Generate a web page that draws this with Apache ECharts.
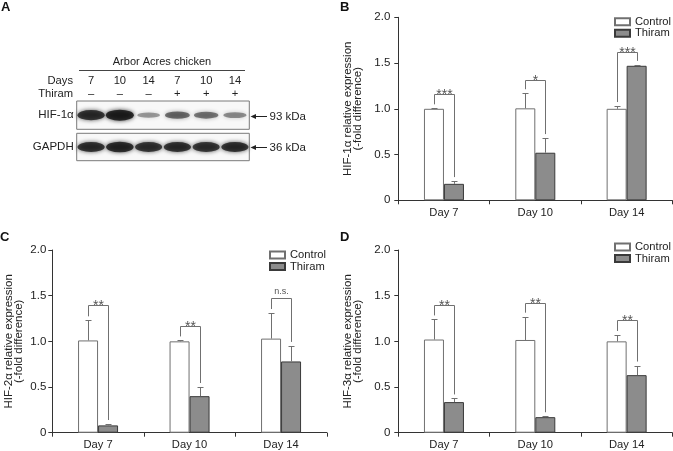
<!DOCTYPE html>
<html>
<head>
<meta charset="utf-8">
<script src="https://cdn.jsdelivr.net/npm/echarts@6/dist/echarts.min.js"></script>
<style>
html,body{margin:0;padding:0;background:#fff;}
#chart{width:673px;height:451px;}
</style>
</head>
<body>
<div id="chart"></div>
<script>
// ---------- DATA ----------
const days = ['Day 7', 'Day 10', 'Day 14'];
const yTicks = ['0', '0.5', '1.0', '1.5', '2.0'];

// Panel B: HIF-1α
const hif1Control = [1.00, 1.005, 1.00];
const hif1ControlErr = [0.005, 0.165, 0.03];
const hif1Thiram = [0.18, 0.52, 1.47];
const hif1ThiramErr = [0.03, 0.16, 0.01];
const hif1SigTop = [1.16, 1.32, 1.62];
const hif1Sig = ['***', '*', '***'];

// Panel C: HIF-2α
const hif2Control = [1.01, 1.00, 1.03];
const hif2ControlErr = [0.22, 0.01, 0.28];
const hif2Thiram = [0.08, 0.40, 0.78];
const hif2ThiramErr = [0.015, 0.10, 0.17];
const hif2SigTop = [1.40, 1.17, 1.47];
const hif2Sig = ['**', '**', 'n.s.'];

// Panel D: HIF-3α
const hif3Control = [1.02, 1.015, 1.00];
const hif3ControlErr = [0.22, 0.255, 0.07];
const hif3Thiram = [0.335, 0.17, 0.63];
const hif3ThiramErr = [0.04, 0.01, 0.105];
const hif3SigTop = [1.40, 1.42, 1.23];
const hif3Sig = ['**', '**', '**'];

// Panel A: western blot
const laneDays = ['7', '10', '14', '7', '10', '14'];
const laneThiram = ['\u2013', '\u2013', '\u2013', '+', '+', '+'];
const hif1aBand = [0.9, 1.0, 0.35, 0.6, 0.55, 0.42];
const gapdhBand = [0.9, 0.95, 0.88, 0.9, 0.88, 0.9];

// ---------- STYLE ----------
const FONT = '"Liberation Sans", Arial, Helvetica, sans-serif';
const FS = 11.2;
const TXT = '#222';
const AXIS = '#333';
const ERR_COLOR = '#707070';
const BAR_W = 20;
const GAP = 4;

const chart = echarts.init(document.getElementById('chart'));

const panels = [
  { name: 'HIF-1\u03b1 relative expression\n(-fold difference)', control: hif1Control, cErr: hif1ControlErr, thiram: hif1Thiram, tErr: hif1ThiramErr, sigTop: hif1SigTop, sig: hif1Sig,
    grid: { left: 398.3, top: 17.3, width: 274, height: 183 }, nameGap: 35, labelMargin: 8, legend: { left: 614, top: 16 } },
  { name: 'HIF-2\u03b1 relative expression\n(-fold difference)', control: hif2Control, cErr: hif2ControlErr, thiram: hif2Thiram, tErr: hif2ThiramErr, sigTop: hif2SigTop, sig: hif2Sig,
    grid: { left: 52.3, top: 250, width: 274.5, height: 182.7 }, nameGap: 28, labelMargin: 6, legend: { left: 269, top: 249.3 } },
  { name: 'HIF-3\u03b1 relative expression\n(-fold difference)', control: hif3Control, cErr: hif3ControlErr, thiram: hif3Thiram, tErr: hif3ThiramErr, sigTop: hif3SigTop, sig: hif3Sig,
    grid: { left: 398.3, top: 250, width: 274, height: 182.7 }, nameGap: 35, labelMargin: 8, legend: { left: 614, top: 241.3 } }
];

function errRender(side) {
  return function (params, api) {
    const cat = api.value(0), v = api.value(1), e = api.value(2);
    const p0 = api.coord([cat, v]);
    const p1 = api.coord([cat, v + e]);
    const x = Math.round(p0[0] + side * BAR_W / 2) + 0.5;
    const y1 = Math.round(p1[1]) + 0.5;
    return {
      type: 'group',
      children: [
        { type: 'line', shape: { x1: x, y1: p0[1], x2: x, y2: y1 }, style: { stroke: ERR_COLOR, lineWidth: 1 } },
        { type: 'line', shape: { x1: x - 3, y1: y1, x2: x + 3, y2: y1 }, style: { stroke: ERR_COLOR, lineWidth: 1 } }
      ]
    };
  };
}

function bracketRender(labels) {
  return function (params, api) {
    const cat = api.value(0);
    const pt = api.coord([cat, api.value(1)]);
    const pl = api.coord([cat, api.value(2)]);
    const pr = api.coord([cat, api.value(3)]);
    const xl = Math.round(pt[0] - BAR_W / 2) + 0.5;
    const xr = Math.round(pt[0] + BAR_W / 2) + 0.5;
    const yt = Math.round(pt[1]) + 0.5;
    const txt = labels[params.dataIndex];
    const ns = txt === 'n.s.';
    return {
      type: 'group',
      children: [
        { type: 'polyline', shape: { points: [[xl, pl[1] - GAP], [xl, yt], [xr, yt], [xr, pr[1] - GAP]] },
          style: { stroke: ERR_COLOR, fill: null, lineWidth: 1 } },
        { type: 'text', style: { text: txt, x: (xl + xr) / 2, y: ns ? yt - 2 : yt + 1,
          align: 'center', verticalAlign: ns ? 'bottom' : 'middle',
          fontFamily: FONT, fontSize: ns ? 9 : 14, fill: '#555' } }
      ]
    };
  };
}

const grids = [], xAxes = [], yAxes = [], series = [], legends = [];

panels.forEach((p, i) => {
  grids.push(Object.assign({ containLabel: false }, p.grid));
  xAxes.push({
    type: 'category', gridIndex: i, data: days,
    axisLine: { lineStyle: { color: AXIS, width: 1 } },
    axisTick: { show: true, length: 4, lineStyle: { color: AXIS } },
    axisLabel: { color: TXT, fontFamily: FONT, fontSize: FS, margin: 7 }
  });
  yAxes.push({
    type: 'value', gridIndex: i, min: 0, max: 2, interval: 0.5,
    name: p.name, nameLocation: 'middle', nameGap: p.nameGap,
    nameTextStyle: { color: TXT, fontFamily: FONT, fontSize: 11.5, lineHeight: 10.5 },
    axisLine: { show: true, lineStyle: { color: AXIS, width: 1 } },
    axisTick: { show: true, length: 4, lineStyle: { color: AXIS } },
    splitLine: { show: false },
    axisLabel: { color: TXT, fontFamily: FONT, fontSize: 11.5, margin: p.labelMargin,
      formatter: (v) => yTicks[Math.round(v / 0.5)] }
  });
  series.push({
    type: 'bar', name: 'Control', xAxisIndex: i, yAxisIndex: i, data: p.control,
    barWidth: BAR_W, barGap: '0%',
    itemStyle: { color: '#ffffff', borderColor: '#707070', borderWidth: 1 }
  });
  series.push({
    type: 'bar', name: 'Thiram', xAxisIndex: i, yAxisIndex: i, data: p.thiram,
    barWidth: BAR_W, barGap: '0%',
    itemStyle: { color: '#8c8c8c', borderColor: '#3a3a3a', borderWidth: 1 }
  });
  series.push({
    type: 'custom', xAxisIndex: i, yAxisIndex: i, renderItem: errRender(-1), z: 5,
    data: p.control.map((v, k) => [k, v, p.cErr[k]])
  });
  series.push({
    type: 'custom', xAxisIndex: i, yAxisIndex: i, renderItem: errRender(1), z: 5,
    data: p.thiram.map((v, k) => [k, v, p.tErr[k]])
  });
  series.push({
    type: 'custom', xAxisIndex: i, yAxisIndex: i, renderItem: bracketRender(p.sig), z: 5,
    data: p.sigTop.map((t, k) => [k, t, p.control[k] + p.cErr[k], p.thiram[k] + p.tErr[k]])
  });
  legends.push({
    left: p.legend.left, top: p.legend.top, orient: 'vertical', padding: 0,
    data: ['Control', 'Thiram'], icon: 'rect', itemWidth: 15, itemHeight: 7, itemGap: 0,
    selectedMode: false,
    textStyle: { color: TXT, fontFamily: FONT, fontSize: FS, lineHeight: 11.5 }
  });
});

// Blot strips (grid 3 = HIF-1α strip, grid 4 = GAPDH strip)
const laneIds = laneDays.map((d, k) => 'L' + k);
grids.push({ left: 76.7, top: 101, width: 172.6, height: 28.3, show: true, borderColor: '#7a7a7a', borderWidth: 1, backgroundColor: '#f8f8f8' });
grids.push({ left: 76.7, top: 133.3, width: 172.6, height: 27.4, show: true, borderColor: '#7a7a7a', borderWidth: 1, backgroundColor: '#f8f8f8' });
xAxes.push({
  type: 'category', gridIndex: 3, data: laneIds, position: 'top',
  axisLine: { show: false }, axisTick: { show: false },
  axisLabel: { color: TXT, fontFamily: FONT, fontSize: FS, lineHeight: 13, margin: 1,
    formatter: (v, k) => laneDays[k] + '\n' + laneThiram[k] }
});
xAxes.push({ type: 'category', gridIndex: 4, data: laneIds, show: false });
yAxes.push({
  type: 'category', gridIndex: 3, data: ['HIF-1\u03b1'],
  axisLine: { show: false }, axisTick: { show: false },
  axisLabel: { color: TXT, fontFamily: FONT, fontSize: 11.5, margin: 3 }
});
yAxes.push({
  type: 'category', gridIndex: 4, data: ['GAPDH'],
  axisLine: { show: false }, axisTick: { show: false },
  axisLabel: { color: TXT, fontFamily: FONT, fontSize: 11.5, margin: 3 }
});
function bandStyle(v) {
  const a = (0.15 + 0.85 * v).toFixed(2);
  return 'rgba(15,15,15,' + a + ')';
}
[[hif1aBand, 3], [gapdhBand, 4]].forEach(([arr, gi]) => {
  series.push({
    type: 'scatter', xAxisIndex: gi, yAxisIndex: gi, symbol: 'circle',
    data: arr.map((v, k) => ({
      value: [k, 0, v],
      itemStyle: { color: bandStyle(v), shadowBlur: 4, shadowColor: bandStyle(v) }
    })),
    symbolSize: (val) => [20 + 8 * val[2], 2 + 9 * val[2]],
    silent: true
  });
});

function arrow(y, label) {
  return [
    { type: 'line', shape: { x1: 252, y1: y, x2: 267, y2: y }, style: { stroke: '#222', lineWidth: 1 } },
    { type: 'polygon', shape: { points: [[250.5, y], [256, y - 2.5], [256, y + 2.5]] }, style: { fill: '#222' } },
    { type: 'text', style: { text: label, x: 269.5, y: y, verticalAlign: 'middle', fontFamily: FONT, fontSize: 11.5, fill: TXT } }
  ];
}
const letterStyle = { fontFamily: FONT, fontSize: 13, fontWeight: 'bold', fill: '#111' };
const graphic = [
  { type: 'text', style: Object.assign({ text: 'A', x: 1, y: 1 }, letterStyle) },
  { type: 'text', style: Object.assign({ text: 'B', x: 340, y: 1 }, letterStyle) },
  { type: 'text', style: Object.assign({ text: 'C', x: 0, y: 231 }, letterStyle) },
  { type: 'text', style: Object.assign({ text: 'D', x: 340, y: 231 }, letterStyle) },
  { type: 'text', style: { text: 'Arbor Acres chicken', x: 162, y: 62, align: 'center', verticalAlign: 'middle', fontFamily: FONT, fontSize: 11, fill: TXT } },
  { type: 'line', shape: { x1: 79, y1: 70.5, x2: 245, y2: 70.5 }, style: { stroke: '#444', lineWidth: 1 } },
  { type: 'text', style: { text: 'Days', x: 73, y: 81, align: 'right', verticalAlign: 'middle', fontFamily: FONT, fontSize: FS, fill: TXT } },
  { type: 'text', style: { text: 'Thiram', x: 73, y: 94, align: 'right', verticalAlign: 'middle', fontFamily: FONT, fontSize: FS, fill: TXT } }
].concat(arrow(116.5, '93 kDa'), arrow(147.5, '36 kDa'));

chart.setOption({
  animation: false,
  backgroundColor: '#ffffff',
  grid: grids,
  xAxis: xAxes,
  yAxis: yAxes,
  legend: legends,
  series: series,
  graphic: graphic
});
</script>
</body>
</html>
